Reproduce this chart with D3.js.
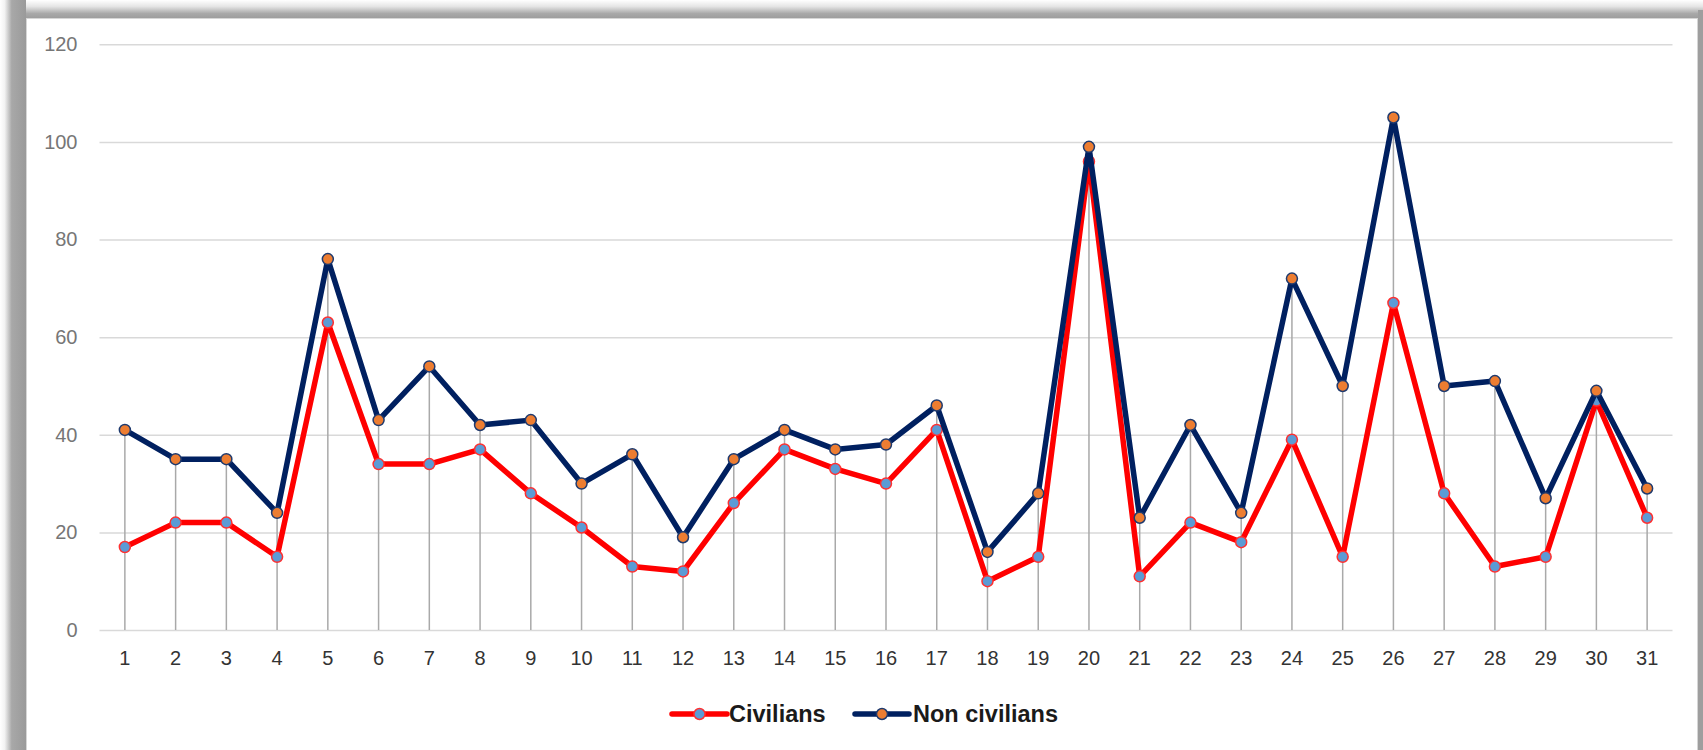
<!DOCTYPE html>
<html>
<head>
<meta charset="utf-8">
<script src="https://cdn.jsdelivr.net/npm/d3@7"></script>
<style>
  html, body { margin: 0; padding: 0; background: #fff; }
  svg { display: block; }
</style>
</head>
<body>
<svg id="chart" width="1703" height="750"></svg>
<script>
const categories = d3.range(1, 32).map(String);
const civilians = [17, 22, 22, 15, 63, 34, 34, 37, 28, 21, 13, 12, 26, 37, 33, 30, 41, 10, 15, 96, 11, 22, 18, 39, 15, 67, 28, 13, 15, 47, 23];
const nonCivilians = [41, 35, 35, 24, 76, 43, 54, 42, 43, 30, 36, 19, 35, 41, 37, 38, 46, 16, 28, 99, 23, 42, 24, 72, 50, 105, 50, 51, 27, 49, 29];
const yTicks = [0, 20, 40, 60, 80, 100, 120];
const seriesNames = ["Civilians", "Non civilians"];

const svg = d3.select("#chart");
const W = 1703, H = 750;
const FONT = "'Liberation Sans', Arial, sans-serif";

// ---- frame / shadow ----
const defs = svg.append("defs");
const gl = defs.append("linearGradient").attr("id", "gLeft").attr("x1", 0).attr("x2", 1).attr("y1", 0).attr("y2", 0);
gl.append("stop").attr("offset", "0%").attr("stop-color", "#ffffff");
gl.append("stop").attr("offset", "18%").attr("stop-color", "#f2f2f2");
gl.append("stop").attr("offset", "45%").attr("stop-color", "#a8a8a8");
gl.append("stop").attr("offset", "100%").attr("stop-color", "#9a9a9a");
const gt = defs.append("linearGradient").attr("id", "gTop").attr("x1", 0).attr("x2", 0).attr("y1", 0).attr("y2", 1);
gt.append("stop").attr("offset", "0%").attr("stop-color", "#ffffff");
gt.append("stop").attr("offset", "35%").attr("stop-color", "#e6e6e6");
gt.append("stop").attr("offset", "75%").attr("stop-color", "#a9a9a9");
gt.append("stop").attr("offset", "100%").attr("stop-color", "#9e9e9e");

svg.append("rect").attr("x", 0).attr("y", 0).attr("width", W).attr("height", H).attr("fill", "#fff");
svg.append("rect").attr("x", 0).attr("y", 0).attr("width", W).attr("height", 18).attr("fill", "url(#gTop)");
svg.append("rect").attr("x", 0).attr("y", 0).attr("width", 26).attr("height", H).attr("fill", "url(#gLeft)");
svg.append("rect").attr("x", 1698).attr("y", 10).attr("width", 5).attr("height", H).attr("fill", "#9e9e9e");
svg.append("rect").attr("x", 26.5).attr("y", 18.5).attr("width", 1671).attr("height", 740)
  .attr("fill", "#fff").attr("stroke", "#d6d6d6").attr("stroke-width", 1);

// ---- scales ----
const x = d3.scaleBand().domain(categories).range([99.5, 1672.5]).padding(0);
const y = d3.scaleLinear().domain([0, 120]).range([630, 44.3]);
const cx = c => x(c) + x.bandwidth() / 2;

// ---- y axis with gridlines ----
const yAxis = svg.append("g").attr("transform", `translate(${99.5},0)`)
  .call(d3.axisLeft(y).tickValues(yTicks).tickSize(-(1672.5 - 99.5)).tickPadding(22));
yAxis.select(".domain").remove();
yAxis.selectAll(".tick line").attr("stroke", "#d9d9d9").attr("stroke-width", 1.5);
yAxis.selectAll(".tick text").attr("fill", "#767676").attr("font-family", FONT).attr("font-size", 20);

// ---- drop lines ----
const maxVals = categories.map((c, i) => Math.max(civilians[i], nonCivilians[i]));
svg.append("g").selectAll("line").data(categories).join("line")
  .attr("x1", d => cx(d)).attr("x2", d => cx(d))
  .attr("y1", (d, i) => y(maxVals[i])).attr("y2", y(0))
  .attr("stroke", "#a9a9a9").attr("stroke-width", 1.5);

// ---- x axis ----
const xAxis = svg.append("g").attr("transform", `translate(0,${y(0)})`)
  .call(d3.axisBottom(x).tickSize(0).tickPadding(21));
xAxis.select(".domain").remove();
xAxis.selectAll(".tick text").attr("fill", "#333333").attr("font-family", FONT).attr("font-size", 20);

// ---- series ----
const series = [
  { name: seriesNames[0], values: civilians, line: "#ff0000", mFill: "#5b9bd5", mStroke: "#ff3030" },
  { name: seriesNames[1], values: nonCivilians, line: "#002060", mFill: "#ed7d31", mStroke: "#1f3a6e" }
];
const lineGen = d3.line().x(d => cx(d.c)).y(d => y(d.v));
series.forEach(s => {
  const pts = categories.map((c, i) => ({ c, v: s.values[i] }));
  svg.append("path").datum(pts).attr("d", lineGen)
    .attr("fill", "none").attr("stroke", s.line).attr("stroke-width", 5.5)
    .attr("stroke-linejoin", "round").attr("stroke-linecap", "round");
  svg.append("g").selectAll("circle").data(pts).join("circle")
    .attr("cx", d => cx(d.c)).attr("cy", d => y(d.v)).attr("r", 5.5)
    .attr("fill", s.mFill).attr("stroke", s.mStroke).attr("stroke-width", 1.5);
});

// ---- legend ----
const legendItems = [
  { s: series[0], x0: 672, x1: 727, tx: 729 },
  { s: series[1], x0: 855, x1: 909, tx: 913 }
];
const lg = svg.append("g");
legendItems.forEach(it => {
  const ly = 714;
  lg.append("line").attr("x1", it.x0).attr("x2", it.x1).attr("y1", ly).attr("y2", ly)
    .attr("stroke", it.s.line).attr("stroke-width", 5.5).attr("stroke-linecap", "round");
  lg.append("circle").attr("cx", (it.x0 + it.x1) / 2).attr("cy", ly).attr("r", 5.5)
    .attr("fill", it.s.mFill).attr("stroke", it.s.mStroke).attr("stroke-width", 1.5);
  lg.append("text").attr("x", it.tx).attr("y", 721.5).text(it.s.name)
    .attr("font-family", FONT).attr("font-weight", "bold").attr("font-size", 23.5).attr("fill", "#1a1a1a");
});
</script>
</body>
</html>
